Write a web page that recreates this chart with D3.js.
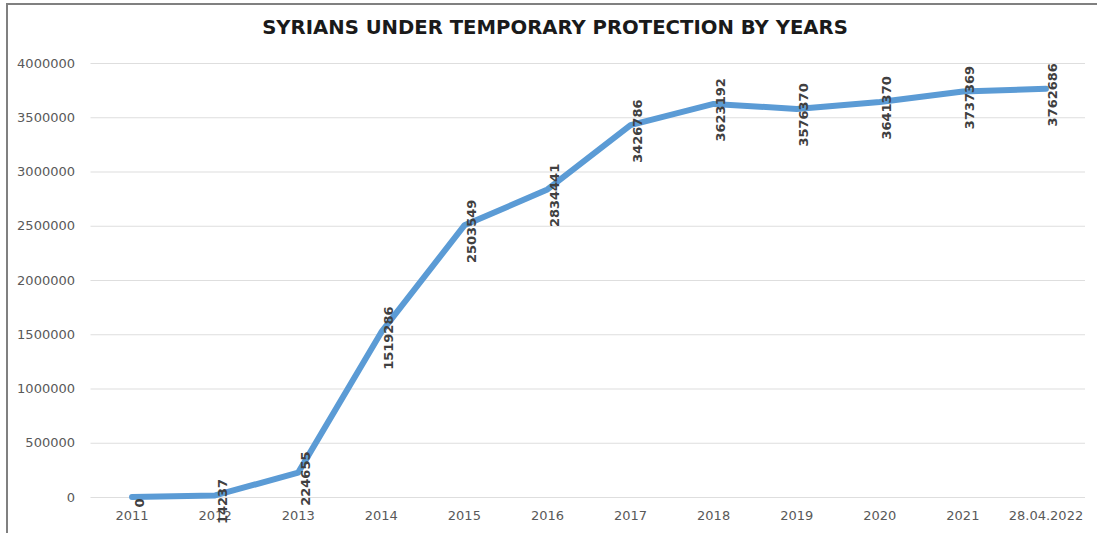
<!DOCTYPE html>
<html>
<head>
<meta charset="utf-8">
<script src="https://cdn.jsdelivr.net/npm/d3@7"></script>
<style>
  html, body { margin: 0; padding: 0; background: #fff; }
  svg { display: block; }
</style>
</head>
<body>
<svg id="chart" width="1097" height="533"></svg>
<script>
// Syrians under temporary protection, yearly totals
const categories = ["2011", "2012", "2013", "2014", "2015", "2016", "2017", "2018", "2019", "2020", "2021", "28.04.2022"];
const values = [0, 14237, 224655, 1519286, 2503549, 2834441, 3426786, 3623192, 3576370, 3641370, 3737369, 3762686];
const yTicks = [0, 500000, 1000000, 1500000, 2000000, 2500000, 3000000, 3500000, 4000000];
const title = "SYRIANS UNDER TEMPORARY PROTECTION BY YEARS";

const svg = d3.select("#chart");
const W = 1097, H = 533;
const plot = { left: 90.5, right: 1087.5, top: 63, bottom: 497 };

// outer frame (left and top edges)
svg.append("line").attr("x1", 7).attr("x2", 7).attr("y1", 3).attr("y2", H)
  .attr("stroke", "#808080").attr("stroke-width", 2);
svg.append("line").attr("x1", 6).attr("x2", W).attr("y1", 4).attr("y2", 4)
  .attr("stroke", "#808080").attr("stroke-width", 2);

const x = d3.scaleBand().domain(categories).range([plot.left, plot.right]);
const y = d3.scaleLinear().domain([0, 4000000]).range([plot.bottom, plot.top]);

// horizontal gridlines
svg.append("g")
  .attr("transform", `translate(${plot.left},0)`)
  .call(d3.axisLeft(y).tickValues(yTicks).tickSize(-(1085 - plot.left)).tickFormat(""))
  .call(g => g.select(".domain").remove())
  .call(g => g.selectAll("line").attr("stroke", "#dedede").attr("stroke-width", 1.2));

// y axis labels
svg.append("g")
  .attr("transform", `translate(75,0)`)
  .call(d3.axisLeft(y).tickValues(yTicks).tickSize(0).tickPadding(0).tickFormat(d3.format("d")))
  .call(g => g.select(".domain").remove())
  .call(g => g.selectAll("text")
    .attr("font-family", "DejaVu Sans").attr("font-size", 13).attr("fill", "#595959"));

// x axis labels
svg.append("g")
  .attr("transform", `translate(0,${plot.bottom})`)
  .call(d3.axisBottom(x).tickSize(0).tickPadding(14))
  .call(g => g.select(".domain").remove())
  .call(g => g.selectAll("text")
    .attr("font-family", "DejaVu Sans").attr("font-size", 13).attr("fill", "#595959"));

const data = categories.map((c, i) => ({ c, v: values[i] }));
const cx = d => x(d.c) + x.bandwidth() / 2;

// series line
svg.append("path")
  .datum(data)
  .attr("fill", "none")
  .attr("stroke", "#5b9bd5")
  .attr("stroke-width", 6)
  .attr("stroke-linejoin", "round")
  .attr("stroke-linecap", "round")
  .attr("d", d3.line().x(cx).y(d => y(d.v)));

// vertical value labels
svg.append("g").selectAll("text")
  .data(data)
  .join("text")
  .attr("transform", d => `translate(${cx(d) + 7},${y(d.v) + 6}) rotate(-90)`)
  .attr("text-anchor", "middle")
  .attr("dominant-baseline", "central")
  .attr("font-family", "DejaVu Sans")
  .attr("font-weight", "bold")
  .attr("font-size", 13)
  .attr("fill", "#404040")
  .text(d => d.v);

// title, sized to span the header width
const t = svg.append("text")
  .attr("x", 555).attr("y", 34)
  .attr("text-anchor", "middle")
  .attr("font-family", "DejaVu Sans")
  .attr("font-weight", "bold")
  .attr("font-size", 18)
  .attr("fill", "#1a1a1a")
  .text(title);
const tw = t.node().getComputedTextLength();
t.attr("font-size", 18 * 586 / tw);
</script>
</body>
</html>
